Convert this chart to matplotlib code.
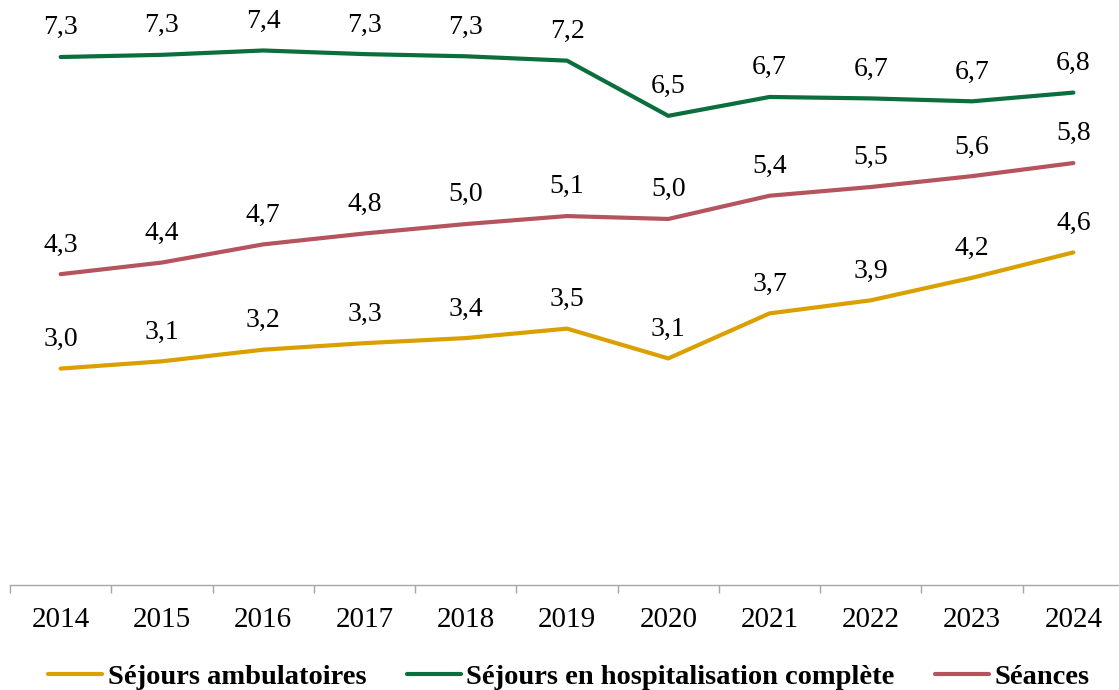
import matplotlib
matplotlib.use("Agg")
import matplotlib.pyplot as plt
from matplotlib.ticker import FixedLocator

years = ["2014", "2015", "2016", "2017", "2018", "2019", "2020", "2021", "2022", "2023", "2024"]
ambulatoires = [2.98, 3.08, 3.24, 3.33, 3.40, 3.53, 3.12, 3.74, 3.92, 4.23, 4.58]
hospitalisation = [7.27, 7.30, 7.36, 7.31, 7.28, 7.22, 6.46, 6.72, 6.70, 6.66, 6.78]
seances = [4.28, 4.44, 4.69, 4.84, 4.97, 5.08, 5.04, 5.36, 5.48, 5.63, 5.81]

series_names = ["Séjours ambulatoires", "Séjours en hospitalisation complète", "Séances"]
series_values = [ambulatoires, hospitalisation, seances]
colors = ["#DAA000", "#0B6E3D", "#B5545E"]

plt.rcParams["font.family"] = ["Liberation Serif", "DejaVu Serif"]

fig = plt.figure(figsize=(11.19, 6.90), dpi=100)
ax = fig.add_axes([10 / 1119, 105 / 690, 1114 / 1119, 581 / 690])

x = list(range(len(years)))
handles = []
for name, vals, c in zip(series_names, series_values, colors):
    (h,) = ax.plot(x, vals, color=c, lw=3.0, solid_capstyle="round",
                   solid_joinstyle="round", label=name)
    handles.append(h)
    for xi, v in zip(x, vals):
        ax.annotate(f"{v:.1f}".replace(".", ","), (xi, v), xytext=(0, 21),
                    textcoords="offset points", ha="center", va="center",
                    fontsize=20, color="black")

ax.set_xlim(-0.5, len(years) - 0.5)
ax.set_ylim(0, 8)
for s in ["top", "right", "left"]:
    ax.spines[s].set_visible(False)
ax.spines["bottom"].set_color("#A6A6A6")
ax.spines["bottom"].set_linewidth(1.0)
ax.set_yticks([])
ax.set_xticks(x)
ax.set_xticklabels(years, fontsize=21)
ax.xaxis.set_minor_locator(FixedLocator([i - 0.5 for i in range(len(years) + 1)]))
ax.tick_params(axis="x", which="major", length=0, pad=16)
ax.tick_params(axis="x", which="minor", length=6, width=1.0, color="#A6A6A6")

fig.legend(handles=handles, loc="center", bbox_to_anchor=(569 / 1119, 1 - 677 / 690),
           ncol=3, frameon=False, prop={"family": ["Liberation Serif"], "weight": "bold", "size": 20.5},
           handlelength=1.9, handletextpad=0.2, columnspacing=1.4, borderpad=0, borderaxespad=0)

fig.savefig("out.png", dpi=100)
